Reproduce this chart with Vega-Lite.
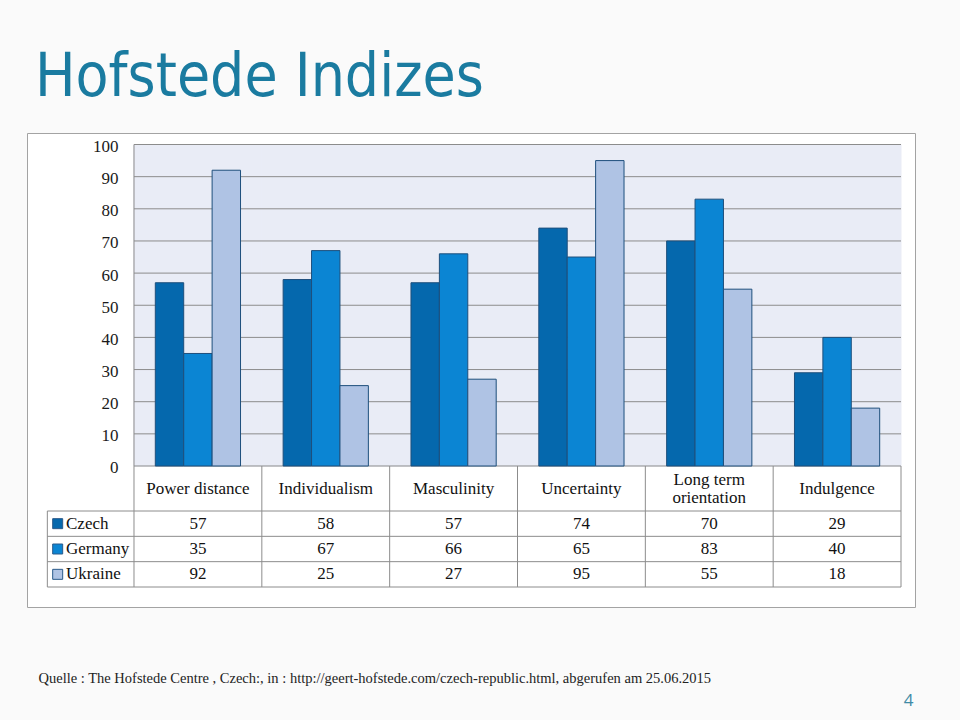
{
  "$schema": "https://vega.github.io/schema/vega-lite/v6.json",
  "width": 888,
  "height": 474,
  "autosize": {"type": "none"},
  "padding": {"left": 27, "top": 133, "right": 45, "bottom": 113},
  "background": "#FAFAFA",
  "config": {
    "view": {"stroke": "#A3A3A3", "strokeWidth": 1, "fill": "#FFFFFF"},
    "font": "Liberation Serif"
  },
  "title": {
    "text": "Hofstede Indizes",
    "anchor": "start",
    "frame": "group",
    "font": "DejaVu Sans Condensed, sans-serif",
    "fontSize": 60,
    "fontWeight": "normal",
    "color": "#1A7BA0",
    "baseline": "alphabetic",
    "offset": 36,
    "dx": 8,
    "dy": 59
  },
  "datasets": {
    "hofstede": [
      {"category": "Power distance", "country": "Czech", "value": 57},
      {"category": "Power distance", "country": "Germany", "value": 35},
      {"category": "Power distance", "country": "Ukraine", "value": 92},
      {"category": "Individualism", "country": "Czech", "value": 58},
      {"category": "Individualism", "country": "Germany", "value": 67},
      {"category": "Individualism", "country": "Ukraine", "value": 25},
      {"category": "Masculinity", "country": "Czech", "value": 57},
      {"category": "Masculinity", "country": "Germany", "value": 66},
      {"category": "Masculinity", "country": "Ukraine", "value": 27},
      {"category": "Uncertainty", "country": "Czech", "value": 74},
      {"category": "Uncertainty", "country": "Germany", "value": 65},
      {"category": "Uncertainty", "country": "Ukraine", "value": 95},
      {"category": "Long term\norientation", "country": "Czech", "value": 70},
      {"category": "Long term\norientation", "country": "Germany", "value": 83},
      {"category": "Long term\norientation", "country": "Ukraine", "value": 55},
      {"category": "Indulgence", "country": "Czech", "value": 29},
      {"category": "Indulgence", "country": "Germany", "value": 40},
      {"category": "Indulgence", "country": "Ukraine", "value": 18}
    ],
    "gridlines": [
      {"v": 0}, {"v": 10}, {"v": 20}, {"v": 30}, {"v": 40}, {"v": 50},
      {"v": 60}, {"v": 70}, {"v": 80}, {"v": 90}, {"v": 100}
    ]
  },
  "data": {"name": "hofstede"},
  "resolve": {"scale": {"y": "independent"}, "axis": {"y": "independent"}},
  "layer": [
    {
      "transform": [{"filter": "datum.country === 'Czech'"}],
      "mark": {"type": "rect", "fill": "#E9ECF6", "stroke": "#E9ECF6", "strokeWidth": 1},
      "encoding": {
        "x": {"field": "category", "type": "nominal", "axis": null,
              "scale": {"type": "band", "domain": ["Power distance", "Individualism", "Masculinity", "Uncertainty", "Long term\norientation", "Indulgence"], "paddingInner": 0, "paddingOuter": 0.47327, "align": 0.8843}},
        "y": {"datum": 100, "type": "quantitative", "axis": null, "scale": {"domain": [-43.86, 103.58], "nice": false, "zero": false}},
        "y2": {"datum": 0}
      }
    },
    {
      "data": {"name": "gridlines"},
      "mark": {"type": "rule", "stroke": "#8C8C8C", "strokeWidth": 1},
      "encoding": {
        "x": {"datum": "Power distance", "type": "nominal", "bandPosition": 0, "axis": null},
        "x2": {"datum": "Indulgence", "bandPosition": 1},
        "y": {"field": "v", "type": "quantitative", "axis": null, "scale": {"domain": [-43.86, 103.58], "nice": false, "zero": false}}
      }
    },
    {
      "mark": {"type": "bar", "stroke": "#1E4F7C", "strokeWidth": 1},
      "encoding": {
        "x": {"field": "category", "type": "nominal", "axis": null},
        "xOffset": {"field": "country", "type": "nominal", "scale": {"domain": ["Czech", "Germany", "Ukraine"], "paddingInner": 0, "paddingOuter": 0.75}},
        "y": {"field": "value", "type": "quantitative",
              "scale": {"domain": [-43.86, 103.58], "nice": false, "zero": false},
              "axis": {"orient": "left", "values": [0, 10, 20, 30, 40, 50, 60, 70, 80, 90, 100], "offset": -107, "labelPadding": 16,
                       "ticks": false, "domain": false, "grid": false, "title": null, "labelOffset": 2,
                       "labelFont": "Liberation Serif", "labelFontSize": 17, "labelColor": "#1A1A1A"}},
        "y2": {"datum": 0},
        "color": {"field": "country", "type": "nominal", "legend": null,
                  "scale": {"domain": ["Czech", "Germany", "Ukraine"], "range": ["#0568AD", "#0B85D3", "#AFC3E4"]}}
      }
    },
    {
      "transform": [{"filter": "datum.country === 'Czech' && datum.category === 'Power distance'"}],
      "mark": {"type": "rule", "stroke": "#8C8C8C", "strokeWidth": 1},
      "encoding": {
        "x": {"datum": "Power distance", "type": "nominal", "bandPosition": 0, "axis": null},
        "y": {"datum": 100, "type": "quantitative", "axis": null, "scale": {"domain": [-43.86, 103.58], "nice": false, "zero": false}},
        "y2": {"datum": 0}
      }
    },
    {
      "mark": {"type": "text", "font": "Liberation Serif", "fontSize": 17, "color": "#111111"},
      "encoding": {
        "x": {"field": "category", "type": "nominal", "axis": null},
        "y": {"field": "country", "type": "nominal",
              "scale": {"type": "band", "domain": ["Czech", "Germany", "Ukraine"], "range": [378, 454], "paddingInner": 0, "paddingOuter": 0},
              "axis": {"orient": "right", "labels": false, "ticks": false, "domain": false, "grid": false,
                       "title": "4", "titleX": -7, "titleY": 567, "titleAngle": 0, "titleAlign": "center", "titleBaseline": "middle",
                       "titleFont": "Open Sans", "titleFontSize": 17, "titleFontWeight": "normal", "titleColor": "#3F8BA6"}},
        "text": {"field": "value", "type": "quantitative"}
      }
    },
    {
      "transform": [{"filter": "datum.category === 'Power distance'"}],
      "mark": {"type": "text", "font": "Liberation Serif", "fontSize": 17, "color": "#111111", "align": "left"},
      "encoding": {
        "x": {"datum": "Power distance", "type": "nominal", "bandPosition": -0.532, "axis": null},
        "y": {"field": "country", "type": "nominal",
              "scale": {"type": "band", "domain": ["Czech", "Germany", "Ukraine"], "range": [378, 454], "paddingInner": 0, "paddingOuter": 0},
              "axis": {"orient": "right", "labels": false, "ticks": false, "domain": false, "grid": false,
                       "title": "Quelle : The Hofstede Centre , Czech:, in :  http://geert-hofstede.com/czech-republic.html, abgerufen am  25.06.2015",
                       "titleX": -877, "titleY": 545, "titleAngle": 0, "titleAlign": "left", "titleBaseline": "middle", "titleLimit": 2000,
                       "titleFont": "Liberation Serif", "titleFontSize": 14.5, "titleFontWeight": "normal", "titleColor": "#222222"}},
        "text": {"field": "country", "type": "nominal"}
      }
    },
    {
      "transform": [{"filter": "datum.category === 'Power distance'"}],
      "mark": {"type": "point", "shape": "square", "filled": true, "size": 100, "opacity": 1, "stroke": "#2A5A8A", "strokeWidth": 1},
      "encoding": {
        "x": {"datum": "Power distance", "type": "nominal", "bandPosition": -0.597, "axis": null},
        "y": {"field": "country", "type": "nominal", "axis": null,
              "scale": {"type": "band", "domain": ["Czech", "Germany", "Ukraine"], "range": [378, 454], "paddingInner": 0, "paddingOuter": 0}},
        "color": {"field": "country", "type": "nominal", "legend": null}
      }
    },
    {
      "transform": [{"filter": "datum.country === 'Czech'"}],
      "mark": {"type": "text", "font": "Liberation Serif", "fontSize": 17, "color": "#111111", "lineBreak": "\n", "lineHeight": 18,
               "dy": {"expr": "indexof(datum.category, 'Long') === 0 ? -9 : 0"}},
      "encoding": {
        "x": {"field": "category", "type": "nominal", "axis": null},
        "y": {"datum": "Czech", "type": "nominal", "bandPosition": -0.888, "axis": null,
              "scale": {"type": "band", "domain": ["Czech", "Germany", "Ukraine"], "range": [378, 454], "paddingInner": 0, "paddingOuter": 0}},
        "text": {"field": "category", "type": "nominal"}
      }
    },
    {
      "transform": [{"filter": "datum.country === 'Czech'"}],
      "mark": {"type": "rule", "stroke": "#8C8C8C", "strokeWidth": 1},
      "encoding": {
        "x": {"field": "category", "type": "nominal", "bandPosition": 0, "axis": null},
        "y": {"datum": "Czech", "type": "nominal", "bandPosition": -1.776, "axis": null,
              "scale": {"type": "band", "domain": ["Czech", "Germany", "Ukraine"], "range": [378, 454], "paddingInner": 0, "paddingOuter": 0}},
        "y2": {"datum": "Ukraine", "bandPosition": 1}
      }
    },
    {
      "transform": [{"filter": "datum.country === 'Czech' && datum.category === 'Indulgence'"}],
      "mark": {"type": "rule", "stroke": "#8C8C8C", "strokeWidth": 1},
      "encoding": {
        "x": {"datum": "Indulgence", "type": "nominal", "bandPosition": 1, "axis": null},
        "y": {"datum": "Czech", "type": "nominal", "bandPosition": -1.776, "axis": null,
              "scale": {"type": "band", "domain": ["Czech", "Germany", "Ukraine"], "range": [378, 454], "paddingInner": 0, "paddingOuter": 0}},
        "y2": {"datum": "Ukraine", "bandPosition": 1}
      }
    },
    {
      "transform": [{"filter": "datum.category === 'Power distance'"}],
      "mark": {"type": "rule", "stroke": "#8C8C8C", "strokeWidth": 1},
      "encoding": {
        "x": {"datum": "Power distance", "type": "nominal", "bandPosition": -0.678, "axis": null},
        "x2": {"datum": "Indulgence", "bandPosition": 1},
        "y": {"field": "country", "type": "nominal", "bandPosition": 0, "axis": null,
              "scale": {"type": "band", "domain": ["Czech", "Germany", "Ukraine"], "range": [378, 454], "paddingInner": 0, "paddingOuter": 0}}
      }
    },
    {
      "transform": [{"filter": "datum.category === 'Power distance' && datum.country === 'Ukraine'"}],
      "mark": {"type": "rule", "stroke": "#8C8C8C", "strokeWidth": 1},
      "encoding": {
        "x": {"datum": "Power distance", "type": "nominal", "bandPosition": -0.678, "axis": null},
        "x2": {"datum": "Indulgence", "bandPosition": 1},
        "y": {"field": "country", "type": "nominal", "bandPosition": 1, "axis": null,
              "scale": {"type": "band", "domain": ["Czech", "Germany", "Ukraine"], "range": [378, 454], "paddingInner": 0, "paddingOuter": 0}}
      }
    },
    {
      "transform": [{"filter": "datum.category === 'Power distance' && datum.country === 'Czech'"}],
      "mark": {"type": "rule", "stroke": "#8C8C8C", "strokeWidth": 1},
      "encoding": {
        "x": {"datum": "Power distance", "type": "nominal", "bandPosition": -0.678, "axis": null},
        "y": {"datum": "Czech", "type": "nominal", "bandPosition": 0, "axis": null,
              "scale": {"type": "band", "domain": ["Czech", "Germany", "Ukraine"], "range": [378, 454], "paddingInner": 0, "paddingOuter": 0}},
        "y2": {"datum": "Ukraine", "bandPosition": 1}
      }
    }
  ]
}
